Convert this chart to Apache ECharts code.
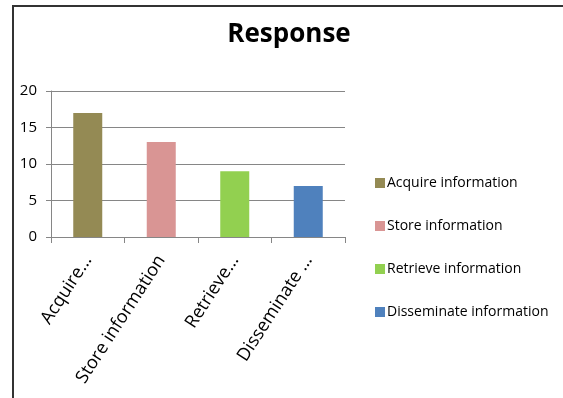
<!DOCTYPE html>
<html>
<head>
<meta charset="utf-8">
<script src="https://cdn.jsdelivr.net/npm/echarts@6/dist/echarts.min.js"></script>
<style>
  html, body { margin: 0; padding: 0; background: #fff; }
  #chart { width: 563px; height: 398px; }
</style>
</head>
<body>
<div id="chart"></div>
<script>
// Survey responses per information activity
const categories = ['Acquire information', 'Store information', 'Retrieve information', 'Disseminate information'];
const tickLabels = ['Acquire…', 'Store information', 'Retrieve…', 'Disseminate …'];
const responses = [17, 13, 9, 7];
const colors = ['#948a54', '#d99594', '#92d050', '#4f81bd'];
const yTicks = [0, 5, 10, 15, 20];

const fontFamily = '"Open Sans", "Noto Sans", sans-serif';

// One series per category so each bar gets its own legend entry
const series = categories.map((name, i) => ({
  name: name,
  type: 'bar',
  stack: 'all',
  barWidth: 29,
  itemStyle: { color: colors[i] },
  data: categories.map((c, j) => (j === i ? responses[i] : '-'))
}));

const chart = echarts.init(document.getElementById('chart'), null, { renderer: 'canvas' });
chart.setOption({
  animation: false,
  backgroundColor: '#ffffff',
  title: {
    text: 'Response',
    left: 284,
    top: 17,
    textAlign: 'center',
    textStyle: { fontFamily: fontFamily, fontWeight: 'bold', fontSize: 26, color: '#000' }
  },
  legend: {
    orient: 'vertical',
    left: 370,
    top: 171,
    itemWidth: 10,
    itemHeight: 10,
    itemGap: 29,
    icon: 'rect',
    data: categories,
    textStyle: { fontFamily: fontFamily, fontSize: 14, color: '#000', padding: [0, 0, 0, -3] }
  },
  grid: { left: 51, right: 218, top: 91, bottom: 161 },
  xAxis: {
    type: 'category',
    data: categories,
    boundaryGap: true,
    axisLine: { lineStyle: { color: '#868686', width: 1 } },
    axisTick: { show: true, alignWithLabel: false, length: 6, lineStyle: { color: '#868686' } },
    axisLabel: {
      rotate: 57,
      interval: 0,
      margin: 20,
      fontFamily: fontFamily,
      fontSize: 18,
      color: '#000',
      formatter: (v, i) => tickLabels[i]
    }
  },
  yAxis: {
    type: 'value',
    min: yTicks[0],
    max: yTicks[yTicks.length - 1],
    interval: 5,
    axisLine: { show: true, lineStyle: { color: '#868686', width: 1 } },
    axisTick: { show: true, length: 5, lineStyle: { color: '#868686' } },
    splitLine: { show: true, lineStyle: { color: '#868686', width: 1 } },
    axisLabel: { margin: 14, fontFamily: fontFamily, fontSize: 15, color: '#000' }
  },
  series: series,
  graphic: [
    {
      type: 'polyline',
      shape: { points: [[13, 400], [13, 6], [565, 6]] },
      style: { stroke: '#333', lineWidth: 2, fill: null },
      silent: true
    }
  ]
});
</script>
</body>
</html>
